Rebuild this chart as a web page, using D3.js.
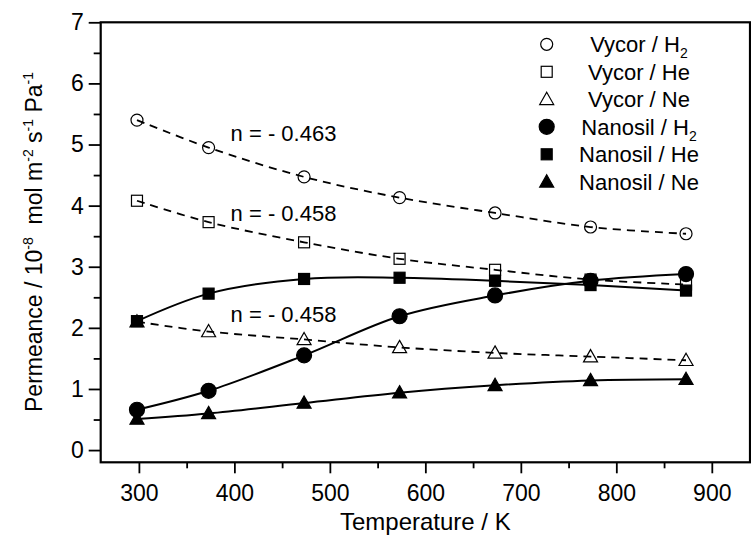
<!DOCTYPE html>
<html><head><meta charset="utf-8">
<script src="https://cdn.jsdelivr.net/npm/d3@7"></script>
<style>body{margin:0;background:#fff}svg{display:block}text{font-family:"Liberation Sans",Arial,sans-serif;fill:#000}</style>
</head><body>
<svg id="c" width="751" height="536"></svg>
<script>
const temps = [298, 373, 473, 573, 673, 773, 873];
const vycorH2 = [5.40, 4.95, 4.47, 4.13, 3.88, 3.65, 3.54];
const vycorHe = [4.08, 3.73, 3.40, 3.13, 2.95, 2.79, 2.71];
const vycorNe = [2.10, 1.94, 1.81, 1.68, 1.59, 1.53, 1.47];
const nanoH2 = [0.66, 0.97, 1.55, 2.19, 2.53, 2.77, 2.88];
const nanoHe = [2.11, 2.56, 2.80, 2.82, 2.77, 2.70, 2.61];
const nanoNe = [0.51, 0.60, 0.77, 0.94, 1.06, 1.14, 1.16];
const xTicks = [300, 400, 500, 600, 700, 800, 900];
const yTicks = [0, 1, 2, 3, 4, 5, 6, 7];
const annotations = [
  {text: "n = - 0.463", t: 373, v: 5.05},
  {text: "n = - 0.458", t: 373, v: 3.75},
  {text: "n = - 0.458", t: 373, v: 2.09}
];

const svg = d3.select("#c");
const L = 100.7, R = 750, T = 22.3, B = 462.3;
const x = d3.scaleLinear().domain([260, 940]).range([L, R]);
const y = d3.scaleLinear().domain([-0.2, 7]).range([B, T]);

const series = [
  {name: "Vycor / H", sub: "2", vals: vycorH2, sym: "circle", fill: false, dash: true},
  {name: "Vycor / He", vals: vycorHe, sym: "square", fill: false, dash: true},
  {name: "Vycor / Ne", vals: vycorNe, sym: "triangle", fill: false, dash: true},
  {name: "Nanosil / H", sub: "2", vals: nanoH2, sym: "circle", fill: true, dash: false},
  {name: "Nanosil / He", vals: nanoHe, sym: "square", fill: true, dash: false},
  {name: "Nanosil / Ne", vals: nanoNe, sym: "triangle", fill: true, dash: false}
];

function drawSym(g, s, cx, cy) {
  const sw = 1.2;
  if (s.sym === "circle") {
    g.append("circle").attr("cx", cx).attr("cy", cy).attr("r", s.fill ? 7.5 : 6)
      .attr("fill", s.fill ? "#000" : "none").attr("stroke", "#000").attr("stroke-width", sw);
  } else if (s.sym === "square") {
    const h = 5.5;
    g.append("rect").attr("x", cx - h).attr("y", cy - h).attr("width", 2 * h).attr("height", 2 * h)
      .attr("fill", s.fill ? "#000" : "none").attr("stroke", "#000").attr("stroke-width", sw);
  } else {
    const a = 7;
    g.append("path").attr("d", `M${cx},${cy - a}L${cx + a},${cy + a * 0.75}L${cx - a},${cy + a * 0.75}Z`)
      .attr("fill", s.fill ? "#000" : "none").attr("stroke", "#000").attr("stroke-width", sw);
  }
}

// lines
const line = d3.line().x(d => x(d[0])).y(d => y(d[1])).curve(d3.curveCatmullRom.alpha(0.5));
series.forEach(s => {
  svg.append("path").datum(temps.map((t, i) => [t, s.vals[i]])).attr("d", line)
    .attr("fill", "none").attr("stroke", "#000").attr("stroke-width", s.dash ? 1.8 : 2)
    .attr("stroke-dasharray", s.dash ? "8,6" : null);
});
series.forEach(s => {
  const g = svg.append("g");
  temps.forEach((t, i) => drawSym(g, s, x(t), y(s.vals[i])));
});

// axes
svg.append("g").attr("class", "xa").attr("transform", `translate(0,${B})`)
  .call(d3.axisBottom(x).tickValues(xTicks).tickSize(11).tickPadding(11).tickFormat(d3.format("d")));
svg.append("g").attr("transform", `translate(0,${B})`)
  .call(d3.axisBottom(x).tickValues(d3.range(350, 940, 100)).tickSize(6).tickFormat(""));
svg.append("g").attr("class", "ya").attr("transform", `translate(${L},0)`)
  .call(d3.axisLeft(y).tickValues(yTicks).tickSize(12).tickPadding(5).tickFormat(d3.format("d")));
svg.append("g").attr("transform", `translate(${L},0)`)
  .call(d3.axisLeft(y).tickValues(d3.range(0.5, 7, 1)).tickSize(7).tickFormat(""));
svg.selectAll(".domain").remove();
svg.selectAll(".tick line").attr("stroke", "#000").attr("stroke-width", 1.8);
svg.selectAll(".tick text").attr("font-size", 23).attr("font-family", "Liberation Sans, Arial, sans-serif");
// frame
svg.append("rect").attr("x", L).attr("y", T).attr("width", R - L).attr("height", B - T)
  .attr("fill", "none").attr("stroke", "#000").attr("stroke-width", 2.2);

// axis titles
svg.append("text").attr("x", (L + R) / 2).attr("y", 530).attr("text-anchor", "middle")
  .attr("font-size", 24).text("Temperature / K");
const yl = svg.append("text").attr("transform", "translate(42,242) rotate(-90)")
  .attr("text-anchor", "middle").attr("font-size", 23).style("white-space", "pre");
const parts = [["Permeance / 10", 0], ["-8", 1], ["  mol m", 0], ["-2", 1], [" s", 0], ["-1", 1], [" Pa", 0], ["-1", 1]];
let up = false;
parts.forEach(([t, sup]) => {
  const ts = yl.append("tspan").text(t);
  if (sup) ts.attr("font-size", 14);
  if (sup && !up) { ts.attr("dy", -9); up = true; }
  else if (!sup && up) { ts.attr("dy", 9); up = false; }
});

// annotations
annotations.forEach(a => {
  svg.append("text").attr("x", x(a.t) + 22).attr("y", y(a.v)).attr("font-size", 22).text(a.text);
});

// legend
series.forEach((s, i) => {
  const cy = 44.3 + i * 27.5;
  const g = svg.append("g");
  drawSym(g, s, 546.7, cy);
  const t = svg.append("text").attr("x", 639).attr("y", cy + 8).attr("text-anchor", "middle").attr("font-size", 22);
  t.append("tspan").text(s.name);
  if (s.sub) t.append("tspan").attr("dy", 6).attr("font-size", 14).text(s.sub);
});
</script>
</body></html>
